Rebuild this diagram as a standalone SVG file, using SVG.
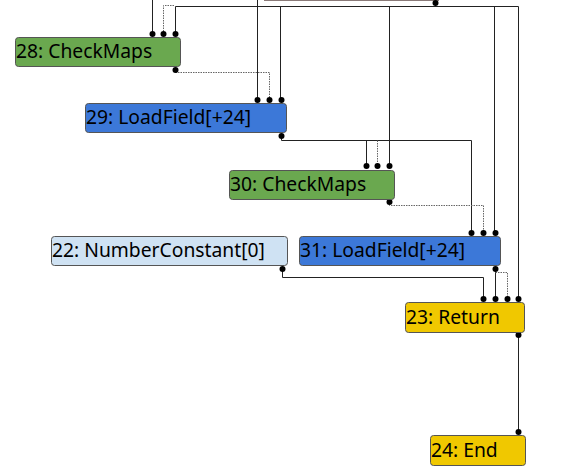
<svg xmlns="http://www.w3.org/2000/svg" width="573" height="474" viewBox="0 0 573 474">
<style>
.n{stroke:#555;stroke-width:1;rx:3}
.t{font-family:"Noto Sans","Open Sans",sans-serif;font-size:19.3px;fill:#000}
.e{fill:none;stroke:#222;stroke-width:1}
.d{fill:none;stroke:#666;stroke-width:1;stroke-dasharray:1.5 1}
.p{fill:#000}
</style>
<rect width="573" height="474" fill="#fff"/>
<g id="top"><rect x="264.5" y="-30" width="174" height="30.5" fill="#fff" stroke="#8a7a78"/></g>
<g id="edges">
<path class="e" d="M152.5,0V34"/>
<path class="d" d="M163.5,34V5.5H175"/>
<path class="e" d="M435.5,3V6.5M175.5,6.5H518.5M175.5,6.5V34M280.5,6.5V100M389.5,6.5V166M494.5,6.5V233M518.5,6.5V299"/>
<path class="e" d="M257.5,0V100"/>
<path class="d" d="M175.5,70V72.5H269.5V100"/>
<path class="e" d="M281.5,136V140.5H471.5V233M366.5,140.5V166"/>
<path class="d" d="M377.5,140.5V166"/>
<path class="d" d="M389.5,202V205.5H483.5V233"/>
<path class="e" d="M282.5,269V277.5H483.5V299"/>
<path class="e" d="M495.5,269V299"/>
<path class="d" d="M495.5,272.5H507.5V299"/>
<path class="e" d="M518.5,335V432"/>
<g class="p">
<circle cx="435.5" cy="3" r="3"/>
<circle cx="152.5" cy="34" r="3"/><circle cx="163.5" cy="34" r="3"/><circle cx="175.5" cy="34" r="3"/>
<circle cx="175.5" cy="70" r="3"/>
<circle cx="257.5" cy="100" r="3"/><circle cx="269.5" cy="100" r="3"/><circle cx="281.5" cy="100" r="3"/>
<circle cx="281.5" cy="136" r="3"/>
<circle cx="366.5" cy="166" r="3"/><circle cx="377.5" cy="166" r="3"/><circle cx="389.5" cy="166" r="3"/>
<circle cx="389.5" cy="202" r="3"/>
<circle cx="471.5" cy="233" r="3"/><circle cx="483.5" cy="233" r="3"/><circle cx="495.5" cy="233" r="3"/>
<circle cx="495.5" cy="269" r="3"/>
<circle cx="282.5" cy="269" r="3"/>
<circle cx="483.5" cy="299" r="3"/><circle cx="495.5" cy="299" r="3"/><circle cx="507.5" cy="299" r="3"/><circle cx="518.5" cy="299" r="3"/>
<circle cx="518.5" cy="335" r="3"/>
<circle cx="518.5" cy="432" r="3"/>
</g>
</g>
<g id="n28"><rect class="n" x="15.5" y="37.5" width="165" height="29" fill="#6aa84f"/><text class="t" x="16" y="58">28: CheckMaps</text></g>
<g id="n29"><rect class="n" x="85.5" y="103.5" width="201" height="29" fill="#3c78d8"/><text class="t" x="86" y="124">29: LoadField[+24]</text></g>
<g id="n30"><rect class="n" x="229.5" y="170.5" width="165" height="29" fill="#6aa84f"/><text class="t" x="230" y="191">30: CheckMaps</text></g>
<g id="n22"><rect class="n" x="51.5" y="236.5" width="236" height="29" fill="#cfe2f3"/><text class="t" x="52" y="257">22: NumberConstant[0]</text></g>
<g id="n31"><rect class="n" x="299.5" y="236.5" width="201" height="29" fill="#3c78d8"/><text class="t" x="300" y="257">31: LoadField[+24]</text></g>
<g id="n23"><rect class="n" x="405.5" y="302.5" width="119" height="30" fill="#f0c800"/><text class="t" x="406" y="324">23: Return</text></g>
<g id="n24"><rect class="n" x="430.5" y="435.5" width="95" height="30" fill="#f0c800"/><text class="t" x="431" y="457">24: End</text></g>
</svg>
